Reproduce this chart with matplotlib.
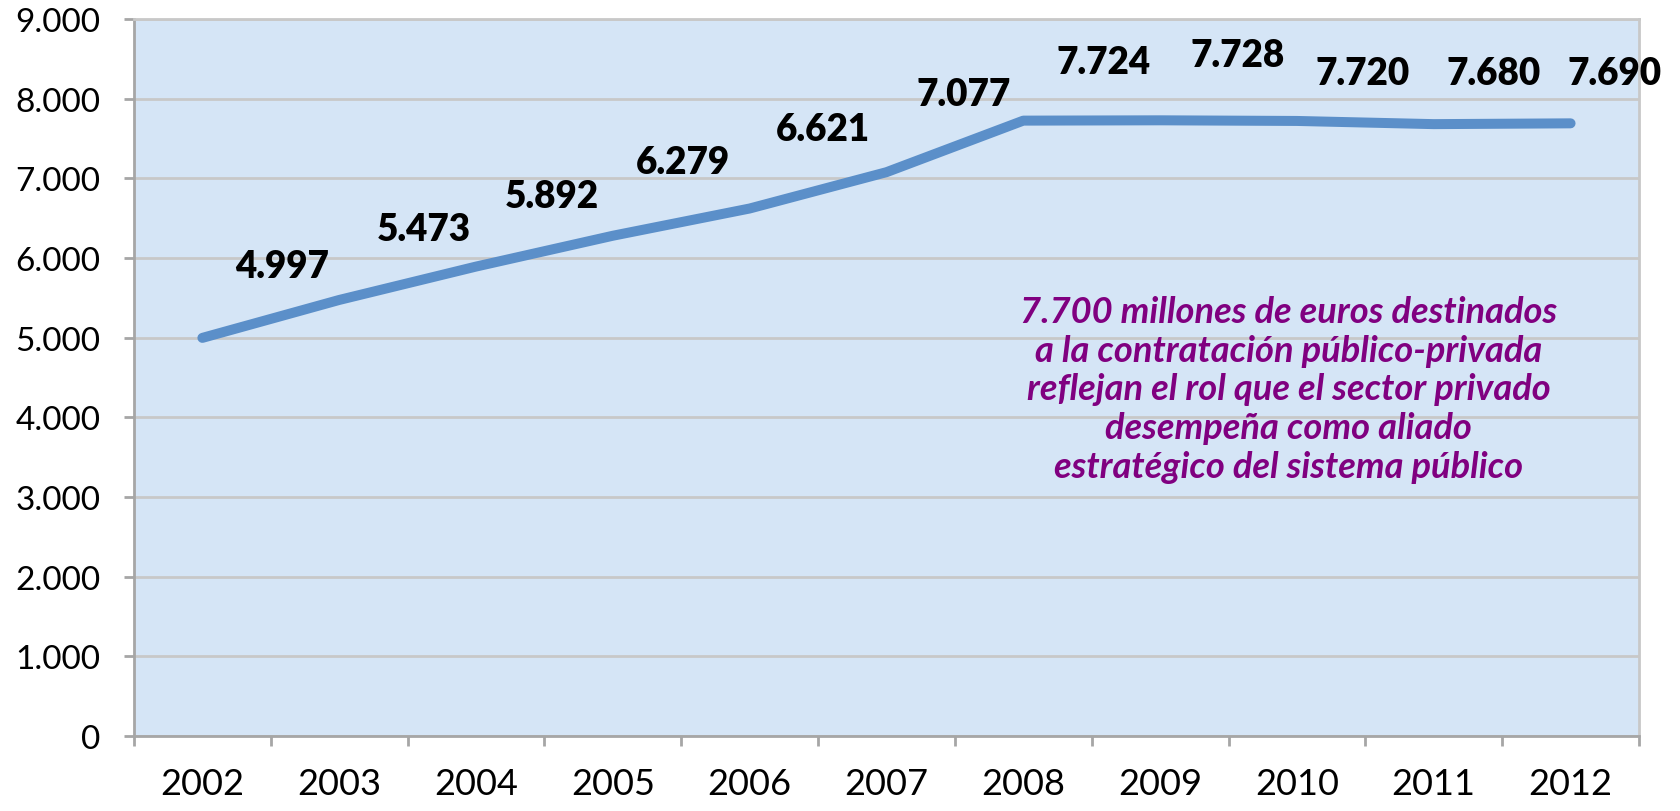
import matplotlib.pyplot as plt
import numpy as np

plt.rcParams['font.family'] = ['Lato', 'DejaVu Sans']

years = ['2002', '2003', '2004', '2005', '2006', '2007', '2008', '2009', '2010', '2011', '2012']
values = [4997, 5473, 5892, 6279, 6621, 7077, 7724, 7728, 7720, 7680, 7690]
labels = ['4.997', '5.473', '5.892', '6.279', '6.621', '7.077', '7.724', '7.728', '7.720', '7.680', '7.690']
y_ticks = [0, 1000, 2000, 3000, 4000, 5000, 6000, 7000, 8000, 9000]
y_tick_labels = ['0', '1.000', '2.000', '3.000', '4.000', '5.000', '6.000', '7.000', '8.000', '9.000']

note = ('7.700 millones de euros destinados\n'
        'a la contratación público-privada\n'
        'reflejan el rol que el sector privado\n'
        'desempeña como aliado\n'
        'estratégico del sistema público')

# label offsets in pixels (dx, dy) relative to each point
label_dx = [80, 85, 76, 70, 73, 77, 80, 78, 66, 60, 44]
label_dy = [72, 71, 71, 74, 80, 78, 59, 65, 48, 51, 50]

fig = plt.figure(figsize=(16.81, 8.12), dpi=100)
ax = fig.add_axes([0.0797, 0.0924, 0.8953, 0.883])
ax.set_facecolor('#d5e5f6')

x = np.arange(len(years))
ax.plot(x, values, color='#5b8fc9', lw=7.2, solid_capstyle='round', zorder=3)

for i in range(len(years)):
    ax.annotate(labels[i], (x[i], values[i]), xytext=(label_dx[i], label_dy[i]),
                textcoords='offset pixels', ha='center', va='center',
                fontsize=26.5, fontweight='heavy', color='black', zorder=4,
                annotation_clip=False)

txt = ax.text(0.7674, 0.484, note, transform=ax.transAxes, ha='center', va='center',
              fontsize=24, fontweight='bold', fontstyle='italic', color='#800080',
              linespacing=1.22)

# fit the note to the width it has in the original (about 538 px)
r = fig.canvas.get_renderer()
w = txt.get_window_extent(r).width
txt.set_fontsize(24 * 538 / w)

ax.set_xlim(-0.5, len(years) - 0.5)
ax.set_ylim(0, 9000)
ax.set_yticks(y_ticks)
ax.set_yticklabels(y_tick_labels, fontsize=24)
ax.set_xticks(x)
ax.set_xticklabels(years, fontsize=26)
ax.set_xticks(np.arange(-0.5, len(years), 1), minor=True)
ax.tick_params(axis='x', which='major', length=0, pad=22)
ax.tick_params(axis='x', which='minor', length=7.2, width=2, color='#a6a6a6', direction='out')
ax.tick_params(axis='y', length=7.2, width=2, color='#a6a6a6', pad=17)

ax.grid(axis='y', color='#c8c8c8', lw=2, zorder=1)
ax.set_axisbelow(True)
for s in ['left', 'bottom']:
    ax.spines[s].set_color('#a6a6a6')
    ax.spines[s].set_linewidth(2)
for s in ['top', 'right']:
    ax.spines[s].set_color('#c8c8c8')
    ax.spines[s].set_linewidth(2)

fig.savefig('out.png', dpi=100)
